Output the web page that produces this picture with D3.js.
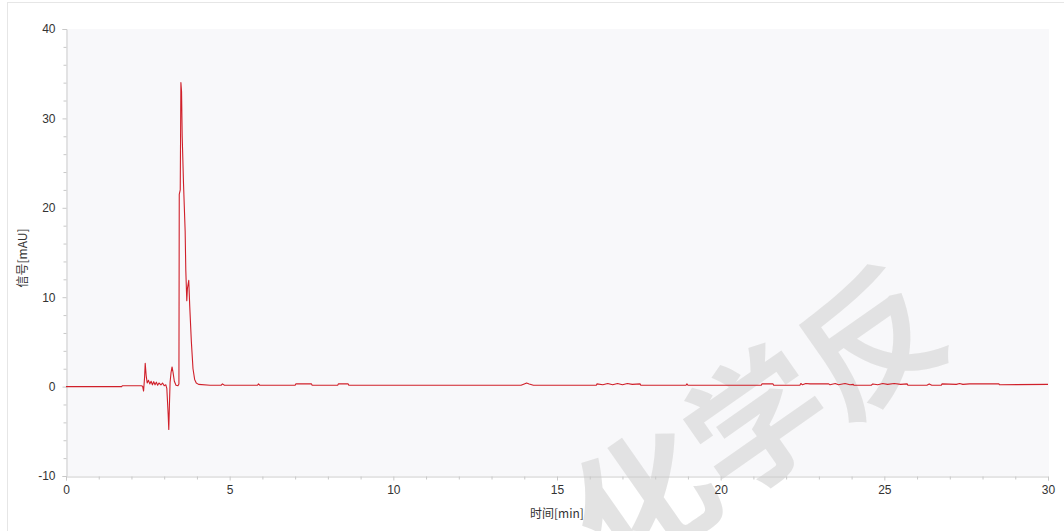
<!DOCTYPE html>
<html>
<head>
<meta charset="utf-8">
<script src="https://cdn.jsdelivr.net/npm/d3@7"></script>
<style>
  html, body { margin: 0; padding: 0; background: #ffffff; }
  svg { display: block; }
</style>
</head>
<body>
<svg id="chart" width="1064" height="531"></svg>
<script>
// Chromatogram: retention time (min) vs detector signal (mAU)
const times = [
  0, 1.70, 1.72, 2.30, 2.34, 2.37, 2.40, 2.42, 2.45, 2.48,
  2.52, 2.56, 2.60, 2.64, 2.68, 2.72, 2.76, 2.80, 2.84, 2.90,
  2.95, 3.00, 3.05, 3.08, 3.12, 3.14, 3.16, 3.18, 3.21, 3.24,
  3.27, 3.31, 3.36, 3.42, 3.45, 3.46, 3.49, 3.51, 3.53, 3.55,
  3.59, 3.64, 3.66, 3.69, 3.71, 3.75, 3.78, 3.83, 3.88, 3.93,
  3.98, 4.05, 4.40, 4.74, 4.78, 4.84, 5.85, 5.88, 5.92, 7.00,
  7.02, 7.50, 7.52, 8.30, 8.32, 8.62, 8.64, 13.90, 14.00, 14.07,
  14.15, 14.28, 16.20, 16.22, 16.40, 16.55, 16.70, 16.85, 17.00, 17.15,
  17.30, 17.54, 17.56, 18.94, 18.97, 19.00, 21.24, 21.26, 21.60, 21.62,
  22.42, 22.45, 22.50, 22.60, 22.73, 23.30, 23.34, 23.50, 23.60, 23.80,
  23.95, 24.05, 24.07, 24.60, 24.65, 24.80, 24.95, 25.10, 25.30, 25.50,
  25.70, 25.72, 26.30, 26.37, 26.45, 26.74, 26.76, 27.20, 27.30, 27.40,
  27.60, 28.50, 28.52, 30.00
];
const signal = [
  0, 0, 0.1, 0.1, 0.05, -0.5, 1.0, 2.6, 1.2, 0.4,
  0.7, 0.3, 0.6, 0.2, 0.55, 0.2, 0.5, 0.15, 0.4, 0.2,
  0.4, 0.1, 0.2, -0.2, -3.0, -4.8, -2.0, 0.5, 1.6, 2.2,
  1.6, 0.6, 0.15, 0.1, 0.3, 21.5, 22.0, 34.0, 33.0, 28.0,
  22.7, 17.4, 13.0, 9.6, 11.0, 11.9, 9.0, 5.0, 2.0, 0.8,
  0.4, 0.25, 0.15, 0.15, 0.3, 0.15, 0.15, 0.3, 0.15, 0.15,
  0.3, 0.3, 0.15, 0.15, 0.3, 0.3, 0.15, 0.15, 0.3, 0.4,
  0.3, 0.15, 0.15, 0.3, 0.2, 0.35, 0.2, 0.35, 0.2, 0.35,
  0.25, 0.3, 0.15, 0.15, 0.3, 0.15, 0.15, 0.3, 0.3, 0.15,
  0.15, 0.35, 0.2, 0.35, 0.3, 0.3, 0.2, 0.35, 0.2, 0.35,
  0.2, 0.25, 0.15, 0.15, 0.3, 0.2, 0.35, 0.25, 0.35, 0.25,
  0.3, 0.15, 0.15, 0.3, 0.15, 0.15, 0.3, 0.25, 0.35, 0.25,
  0.3, 0.3, 0.2, 0.25
];
const xTicks = [0, 5, 10, 15, 20, 25, 30];
const yTicks = [-10, 0, 10, 20, 30, 40];
const xLabel = "时间[min]";
const yLabel = "信号[mAU]";
const watermark = "化学反";

const svg = d3.select("#chart");
const W = 1064, H = 531;
const plot = { left: 66, right: 1048, top: 29, bottom: 476 };

// outer frame
svg.append("rect")
  .attr("x", 7.5).attr("y", 2.5)
  .attr("width", W).attr("height", H)
  .attr("fill", "#ffffff").attr("stroke", "#e6e6e6");

// plot background
svg.append("rect")
  .attr("x", plot.left).attr("y", plot.top)
  .attr("width", plot.right - plot.left + 1).attr("height", plot.bottom - plot.top)
  .attr("fill", "#f8f8fa");

const x = d3.scaleLinear().domain([0, 30]).range([plot.left, plot.right]);
const y = d3.scaleLinear().domain([-10, 40]).range([plot.bottom, plot.top]);

// watermark
svg.append("text")
  .attr("transform", "translate(752,414) rotate(-35)")
  .attr("text-anchor", "middle")
  .attr("dominant-baseline", "central")
  .attr("font-family", "Noto Sans CJK SC")
  .attr("font-size", 138)
  .attr("font-weight", 700)
  .attr("fill", "#dedede")
  .attr("fill-opacity", 0.85)
  .text(watermark);

// axes
const tickFont = "Liberation Sans, Arial, sans-serif";
const fmt = d => String(d);
const xAxis = d3.axisBottom(x).tickValues(xTicks).tickFormat(fmt).tickSize(4).tickPadding(5);
const yAxis = d3.axisLeft(y).tickValues(yTicks).tickFormat(fmt).tickSize(4).tickPadding(7);

const gx = svg.append("g").attr("transform", `translate(0,${plot.bottom + 0.5})`).call(xAxis);
const gy = svg.append("g").attr("transform", `translate(${plot.left + 0.5},0)`).call(yAxis);

// minor ticks
const xMinor = d3.range(0, 31, 1).filter(v => v % 5 !== 0);
const yMinor = d3.range(-10, 41, 2).filter(v => v % 10 !== 0);
gx.selectAll(".minor").data(xMinor).enter().append("line")
  .attr("x1", d => x(d) + 0.5).attr("x2", d => x(d) + 0.5)
  .attr("y1", 0).attr("y2", 3).attr("stroke", "#c8c8c8");
gy.selectAll(".minor").data(yMinor).enter().append("line")
  .attr("y1", d => y(d) + 0.5).attr("y2", d => y(d) + 0.5)
  .attr("x1", 0).attr("x2", -3).attr("stroke", "#c8c8c8");

[gx, gy].forEach(g => {
  g.select(".domain").attr("stroke", "#cccccc");
  g.selectAll(".tick line").attr("stroke", "#c8c8c8");
  g.selectAll(".tick text")
    .attr("fill", "#333333")
    .attr("font-family", tickFont)
    .attr("font-size", 12);
});

// signal trace
const pts = times.map((t, i) => [t, signal[i]]);
svg.append("path")
  .datum(pts)
  .attr("fill", "none")
  .attr("stroke", "#d0202a")
  .attr("stroke-width", 1.1)
  .attr("stroke-linejoin", "round")
  .attr("d", d3.line().x(d => x(d[0])).y(d => y(d[1])));

// axis titles
svg.append("text")
  .attr("x", (plot.left + plot.right) / 2).attr("y", 518)
  .attr("text-anchor", "middle")
  .attr("font-family", "Noto Sans CJK SC")
  .attr("font-size", 12)
  .attr("fill", "#333333")
  .text(xLabel);

svg.append("text")
  .attr("transform", "translate(27,258) rotate(-90)")
  .attr("text-anchor", "middle")
  .attr("font-family", "Noto Sans CJK SC")
  .attr("font-size", 12)
  .attr("fill", "#333333")
  .text(yLabel);
</script>
</body>
</html>
